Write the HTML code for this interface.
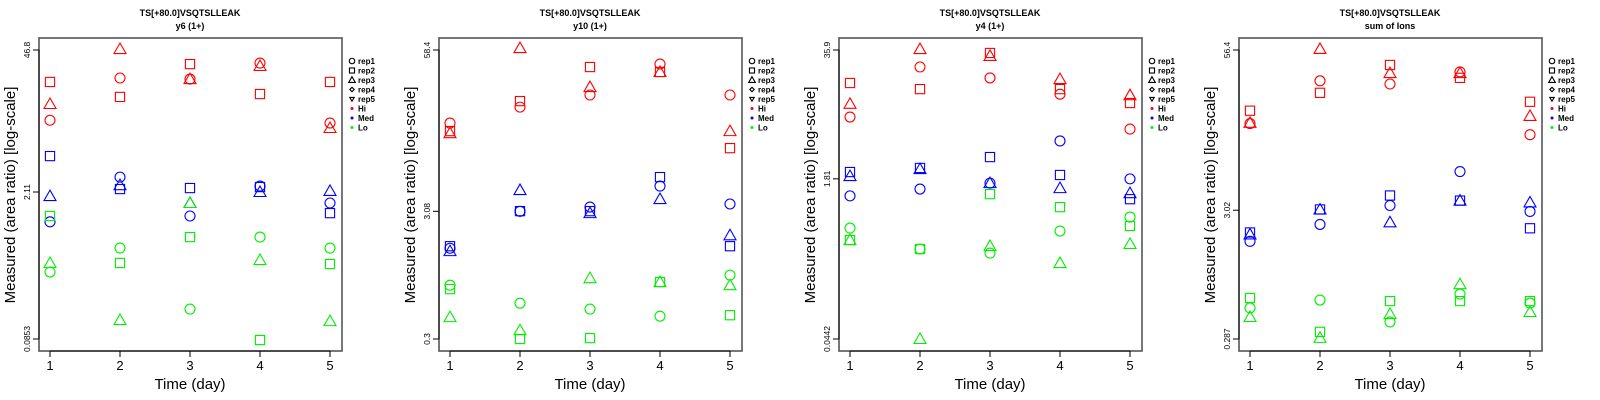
<!DOCTYPE html>
<html><head><meta charset="utf-8"><style>
html,body{margin:0;padding:0;background:#fff;}
svg{display:block;font-family:"Liberation Sans",sans-serif;}
</style></head><body>
<svg id="chart" width="1600" height="400" viewBox="0 0 1600 400"></svg>
<script>
const days = [1,2,3,4,5];
const panelTitles = ["y6 (1+)","y10 (1+)","y4 (1+)","sum of Ions"];
const yTickLabels = [["46.8","2.11","0.0853"],["58.4","3.08","0.3"],["35.9","1.81","0.0442"],["56.4","3.02","0.287"]];
const yTickValues = [[46.8,2.11,0.0853],[58.4,3.08,0.3],[35.9,1.81,0.0442],[56.4,3.02,0.287]];
const groups = ["Hi","Med","Lo"];
const reps = ["rep1","rep2","rep3"];
// values[panel][group][rep] = 5 day values
const p1Hi = [[10.1,25.4,24.8,35.2,9.51],[23.3,16.8,34.4,17.9,23.3],[14.4,47.8,24.8,33.0,8.53]];
const p1Med = [[1.10,2.92,1.25,2.40,1.66],[4.62,2.25,2.30,2.35,1.33],[1.93,2.45,1.66,2.11,2.16]];
const p1Lo = [[0.368,0.621,0.164,0.789,0.621],[1.25,0.448,0.789,0.0834,0.438],[0.448,0.129,1.66,0.478,0.126]];
const p2Hi = [[15.4,20.6,25.7,45.2,25.7],[13.3,23.0,42.8,39.1,9.75],[12.8,60.5,29.7,39.1,13.3]];
const p2Med = [[1.57,3.08,3.33,4.88,3.52],[1.63,3.09,3.09,5.75,1.63],[1.49,4.54,2.98,3.85,1.99]];
const p2Lo = [[0.80,0.577,0.518,0.455,0.962],[0.745,0.30,0.305,0.848,0.463],[0.447,0.352,0.91,0.848,0.80]];
const p3Hi = [[7.59,24.2,18.8,12.9,5.74],[16.7,14.5,33.5,14.5,10.5],[10.3,36.7,31.3,18.3,12.6]];
const p3Med = [[1.22,1.43,1.64,4.36,1.81],[2.12,2.33,3.00,1.98,1.13],[1.93,2.27,1.64,1.46,1.30]];
const p3Lo = [[0.578,0.356,0.324,0.54,0.746],[0.438,0.356,1.27,0.94,0.607],[0.438,0.0442,0.381,0.257,0.40]];
const p4Hi = [[14.7,32.1,30.3,37.8,12.0],[18.6,25.8,42.9,33.9,21.9],[14.9,57.5,37.0,37.0,16.9]];
const p4Med = [[1.71,2.33,3.29,6.12,2.95],[2.01,3.06,3.95,3.60,2.17],[1.94,3.06,2.42,3.60,3.48]];
const p4Lo = [[0.506,0.585,0.392,0.652,0.553],[0.607,0.327,0.574,0.574,0.574],[0.429,0.293,0.453,0.781,0.470]];
const panelData = [[p1Hi,p1Med,p1Lo],[p2Hi,p2Med,p2Lo],[p3Hi,p3Med,p3Lo],[p4Hi,p4Med,p4Lo]];
const colors = {Hi:"#ff0000",Med:"#0000ff",Lo:"#00ee00"};
const legendLabels = ["rep1","rep2","rep3","rep4","rep5","Hi","Med","Lo"];

const NS="http://www.w3.org/2000/svg";
const svg=document.getElementById('chart');
function mk(tag,attrs,parent){const e=document.createElementNS(NS,tag);for(const k in attrs)e.setAttribute(k,attrs[k]);(parent||svg).appendChild(e);return e;}

function marker(g,shape,cx,cy,col,s){
  let e;
  if(shape===0){e=mk('circle',{cx:cx,cy:cy,r:5*s,fill:'none',stroke:col,'stroke-width':1.1},g);}
  else if(shape===1){e=mk('rect',{x:cx-4.6*s,y:cy-4.6*s,width:9.2*s,height:9.2*s,fill:'none',stroke:col,'stroke-width':1.1},g);}
  else if(shape===2){const h=6*s;e=mk('polygon',{points:`${cx},${cy-h} ${cx-h*1.0},${cy+h*0.75} ${cx+h*1.0},${cy+h*0.75}`,fill:'none',stroke:col,'stroke-width':1.1},g);}
  else if(shape===3){const h=4*s;e=mk('polygon',{points:`${cx},${cy-h} ${cx+h},${cy} ${cx},${cy+h} ${cx-h},${cy}`,fill:'none',stroke:col,'stroke-width':1.1},g);}
  else if(shape===4){const h=4*s;e=mk('polygon',{points:`${cx},${cy+h} ${cx-h},${cy-h*0.7} ${cx+h},${cy-h*0.7}`,fill:'none',stroke:col,'stroke-width':1.1},g);}
  else {e=mk('circle',{cx:cx,cy:cy,r:1.5,fill:col},g);}
  return e;
}

panelData.forEach((pd,pi)=>{
  const ox=pi*400;
  const g=mk('g',{});
  
  
  const left=ox+39,right=ox+342,top=38,bottom=351;
  const tv=yTickValues[pi];
  const lmax=Math.log10(tv[0]),lmin=Math.log10(tv[2]);
  const yS=v=>339-(Math.log10(v)-lmin)/(lmax-lmin)*(339-50);
  const xS=d=>ox+50+(d-1)*70;
  // title
  let t=mk('text',{x:ox+190,y:16,'text-anchor':'middle','font-size':9,'font-weight':'bold'},g);
  t.textContent='TS[+80.0]VSQTSLLEAK';
  
  
  t=mk('text',{x:ox+190,y:29,'text-anchor':'middle','font-size':9,'font-weight':'bold'},g);
  t.textContent=panelTitles[pi];
  
  
  // box
  const box=mk('rect',{x:left,y:top,width:right-left,height:bottom-top,fill:'none',stroke:'#555','stroke-width':1.6},g);
  
  
  // x ticks
  days.forEach(d=>{
    mk('line',{x1:xS(d),x2:xS(d),y1:bottom,y2:bottom+6,stroke:'#000','stroke-width':1},g);
    const l=mk('text',{x:xS(d),y:370,'text-anchor':'middle','font-size':13},g);
    l.textContent=String(d);
    
    
  });
  mk('line',{x1:xS(1),x2:xS(5),y1:bottom,y2:bottom,stroke:'#000','stroke-width':1},g);
  const xt=mk('text',{x:ox+190,y:389,'text-anchor':'middle','font-size':15},g);
  xt.textContent='Time (day)';
  
  
  // y ticks
  tv.forEach((v,i)=>{
    const y=yS(v);
    mk('line',{x1:left-6,x2:left,y1:y,y2:y,stroke:'#000','stroke-width':1},g);
    const l=mk('text',{x:ox+30,y:y,'text-anchor':'middle','font-size':8.5,transform:`rotate(-90 ${ox+30} ${y})`},g);
    l.textContent=yTickLabels[pi][i];
    
    
  });
  mk('line',{x1:left,x2:left,y1:yS(tv[0]),y2:yS(tv[2]),stroke:'#000','stroke-width':1},g);
  const yt=mk('text',{x:ox+15,y:195,'text-anchor':'middle','font-size':15,transform:`rotate(-90 ${ox+15} 195)`},g);
  yt.textContent='Measured (area ratio) [log-scale]';
  
  
  // points
  pd.forEach((grp,gi)=>{
    grp.forEach((vals,ri)=>{
      vals.forEach((v,di)=>{
        const m=marker(g,ri,xS(days[di]),yS(v),colors[groups[gi]],1);
        
        
      });
    });
  });
  // legend
  const lg=mk('g',{},g);
  
  
  legendLabels.forEach((lab,i)=>{
    const y=61+i*9.5;
    const col=i<5?'#000':colors[lab];
    marker(lg,i<5?i:5,ox+352,y,col,0.55);
    const lt=mk('text',{x:ox+358,y:y+3,'font-size':8,'font-weight':'bold'},lg);
    lt.textContent=lab;
    
    
  });
});
</script>
</body></html>
